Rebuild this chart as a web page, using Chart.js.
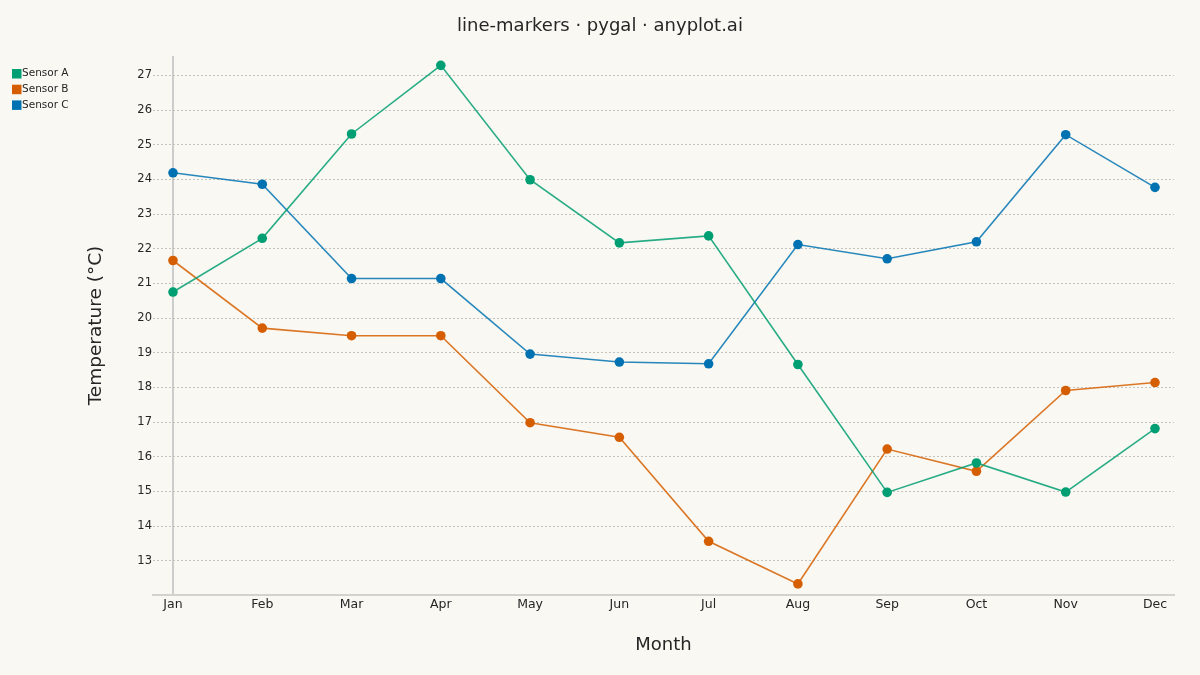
<!DOCTYPE html>
<html>
<head>
<meta charset="utf-8">
<script src="https://cdn.jsdelivr.net/npm/chart.js@4"></script>
<style>
  html, body { margin: 0; padding: 0; background: #faf8f2; }
  #wrap { width: 1200px; height: 675px; }
</style>
</head>
<body>
<div id="wrap"><canvas id="myChart" width="1200" height="675"></canvas></div>
<script>
const months = ['Jan', 'Feb', 'Mar', 'Apr', 'May', 'Jun', 'Jul', 'Aug', 'Sep', 'Oct', 'Nov', 'Dec'];
const sensorA = [20.75, 22.30, 25.31, 27.29, 23.99, 22.17, 22.37, 18.66, 14.97, 15.82, 14.98, 16.81];
const sensorB = [21.66, 19.71, 19.49, 19.49, 16.98, 16.56, 13.56, 12.33, 16.22, 15.58, 17.91, 18.14];
const sensorC = [24.19, 23.86, 21.14, 21.14, 18.96, 18.73, 18.68, 22.12, 21.71, 22.20, 25.29, 23.77];
const yTicks = [13, 14, 15, 16, 17, 18, 19, 20, 21, 22, 23, 24, 25, 26, 27];

const textColor = '#262626';
const font = 'DejaVu Sans';

function toPoints(values) {
  return values.map((v, i) => ({ x: i, y: v }));
}

function series(label, values, color) {
  return {
    label: label,
    data: toPoints(values),
    borderColor: color + 'd8',
    backgroundColor: color,
    pointBackgroundColor: color,
    pointBorderColor: color,
    borderWidth: 1.6,
    pointRadius: 4.8,
    pointBorderWidth: 0,
    tension: 0
  };
}

// legend drawn in the top-left corner, like pygal does
const cornerLegend = {
  id: 'cornerLegend',
  afterDraw(chart) {
    const c = chart.ctx;
    c.save();
    c.font = '10.5px "' + font + '"';
    c.textBaseline = 'middle';
    chart.data.datasets.forEach((ds, i) => {
      const y = 73.5 + i * 15.7;
      c.fillStyle = ds.backgroundColor;
      c.fillRect(12, y - 4.5, 9.5, 9.5);
      c.fillStyle = textColor;
      c.fillText(ds.label, 22, y);
    });
    c.restore();
  }
};

const ctx = document.getElementById('myChart');

new Chart(ctx.getContext('2d'), {
  type: 'line',
  data: {
    datasets: [
      series('Sensor A', sensorA, '#009E73'),
      series('Sensor B', sensorB, '#D55E00'),
      series('Sensor C', sensorC, '#0072B2')
    ]
  },
  options: {
    responsive: false,
    animation: false,
    layout: { padding: { left: 26, right: 26, top: 0, bottom: 0 } },
    plugins: {
      legend: { display: false },
      tooltip: { enabled: false },
      title: {
        display: true,
        text: 'line-markers · pygal · anyplot.ai',
        color: textColor,
        font: { family: font, size: 18, weight: 'normal' },
        padding: { top: 16, bottom: 18.4 }
      }
    },
    scales: {
      x: {
        type: 'linear',
        min: -0.224,
        max: 11.213,
        afterBuildTicks(scale) {
          scale.ticks = months.map((m, i) => ({ value: i }));
        },
        afterFit(scale) { scale.height = 80; },
        ticks: {
          color: textColor,
          font: { family: font, size: 12.5 },
          padding: 2,
          maxRotation: 0,
          autoSkip: false,
          callback: (v) => months[v]
        },
        grid: {
          drawTicks: false,
          color: (c) => c.index === 0 ? '#cccccc' : 'rgba(0,0,0,0)',
          lineWidth: 2
        },
        border: { display: true, color: '#d4d2cc', width: 2 },
        title: {
          display: true,
          text: 'Month',
          color: textColor,
          font: { family: font, size: 18 },
          padding: { bottom: 19 }
        }
      },
      y: {
        min: 12.01,
        max: 27.56,
        afterBuildTicks(scale) {
          scale.ticks = yTicks.map(v => ({ value: v }));
        },
        afterFit(scale) { scale.width = 127; },
        ticks: {
          color: textColor,
          font: { family: font, size: 11.5 },
          padding: 1
        },
        grid: {
          drawTicks: false,
          color: '#c4c2bc',
          lineWidth: 1
        },
        border: { display: false, dash: [2, 2] },
        title: {
          display: true,
          text: 'Temperature (°C)',
          color: textColor,
          font: { family: font, size: 18.5 },
          padding: { top: 59 }
        }
      }
    }
  },
  plugins: [cornerLegend]
});
</script>
</body>
</html>
